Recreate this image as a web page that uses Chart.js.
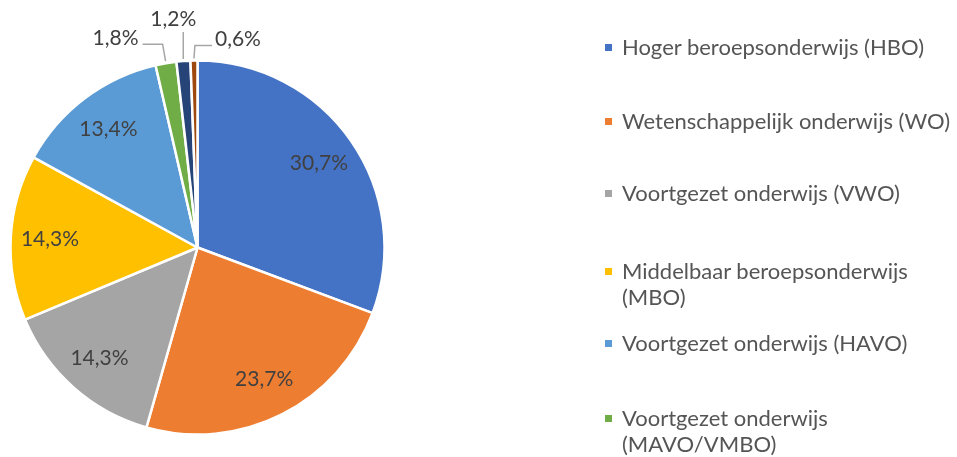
<!DOCTYPE html>
<html>
<head>
<meta charset="utf-8">
<script src="https://cdn.jsdelivr.net/npm/chart.js@4.4.0/dist/chart.umd.min.js"></script>
<style>
  html, body { margin: 0; padding: 0; background: #fff; overflow: hidden; }
  #wrap { position: relative; width: 957px; height: 457px; overflow: hidden; }
  #pie { position: absolute; left: 0; top: 0; }
  #legend { position: absolute; left: 0; top: 0; width: 957px; height: 457px; pointer-events: none; }
  .item { position: absolute; left: 605px; width: 352px; font-family: Lato, sans-serif; font-size: 22px; line-height: 26px; color: #555555; }
  .item .box { position: absolute; left: 0; top: 10px; width: 7px; height: 7px; }
  .item .txt { margin-left: 17px; }
</style>
</head>
<body>
<div id="wrap">
  <canvas id="pie" width="957" height="457"></canvas>
  <div id="legend"></div>
</div>
<script>
const labels = [
  "Hoger beroepsonderwijs (HBO)",
  "Wetenschappelijk onderwijs (WO)",
  "Voortgezet onderwijs (VWO)",
  "Middelbaar beroepsonderwijs (MBO)",
  "Voortgezet onderwijs (HAVO)",
  "Voortgezet onderwijs (MAVO/VMBO)",
  "Overig",
  "Onbekend"
];
const values = [30.7, 23.7, 14.3, 14.3, 13.4, 1.8, 1.2, 0.6];
const colors = ["#4472C4", "#ED7D31", "#A5A5A5", "#FFC000", "#5B9BD5", "#70AD47", "#264478", "#9E480E"];

// legend row tops (px), Excel spreads them unevenly
const legendTops = [34, 108, 180, 258, 330, 405, 480, 520];
// offsets of the outside labels from the slice edge
const outsideOffsets = { 5: [-50, -23], 6: [-10, -40], 7: [44, -19] };

const legend = document.getElementById("legend");
labels.forEach((lab, i) => {
  const div = document.createElement("div");
  div.className = "item";
  div.style.top = legendTops[i] + "px";
  div.innerHTML = `<span class="box" style="background:${colors[i]}"></span><div class="txt">${lab}</div>`;
  legend.appendChild(div);
});

const fmt = v => v.toFixed(1).replace(".", ",") + "%";

const pctLabels = {
  id: "pctLabels",
  afterDatasetsDraw(chart) {
    const ctx = chart.ctx;
    const meta = chart.getDatasetMeta(0);
    ctx.save();
    ctx.font = "21px Lato, sans-serif";
    ctx.fillStyle = "#404040";
    ctx.textAlign = "center";
    ctx.textBaseline = "middle";
    meta.data.forEach((arc, i) => {
      const { x, y, startAngle, endAngle, outerRadius } = arc.getProps(["x", "y", "startAngle", "endAngle", "outerRadius"], true);
      const mid = (startAngle + endAngle) / 2;
      const text = fmt(values[i]);
      if (values[i] > 5) {
        const r = outerRadius * 0.79;
        ctx.fillText(text, x + Math.cos(mid) * r, y + Math.sin(mid) * r);
      } else {
        const ex = x + Math.cos(mid) * (outerRadius + 2);
        const ey = y + Math.sin(mid) * (outerRadius + 2);
        const [dx, dy] = outsideOffsets[i];
        const lx = ex + dx, ly = ey + dy;
        const w = ctx.measureText(text).width;
        ctx.strokeStyle = "#A6A6A6";
        ctx.lineWidth = 1.5;
        ctx.beginPath();
        ctx.moveTo(ex, ey);
        if (dx < -20) {
          ctx.lineTo(ex - 3, ly + 6);
          ctx.lineTo(lx + w / 2 + 4, ly + 6);
        } else if (dx > 20) {
          ctx.lineTo(ex + 1, ly + 6);
          ctx.lineTo(lx - w / 2 - 3, ly + 6);
        } else {
          ctx.lineTo(ex, ly + 13);
        }
        ctx.stroke();
        ctx.fillText(text, lx, ly);
      }
    });
    ctx.restore();
  }
};

new Chart(document.getElementById("pie"), {
  type: "pie",
  data: {
    labels: labels,
    datasets: [{
      data: values,
      backgroundColor: colors,
      borderColor: "#ffffff",
      borderWidth: 2.5
    }]
  },
  options: {
    responsive: false,
    animation: false,
    radius: 187,
    layout: { padding: { left: 10, top: 60, right: 572, bottom: 22 } },
    plugins: {
      legend: { display: false },
      tooltip: { enabled: false }
    }
  },
  plugins: [pctLabels]
});
</script>
</body>
</html>
